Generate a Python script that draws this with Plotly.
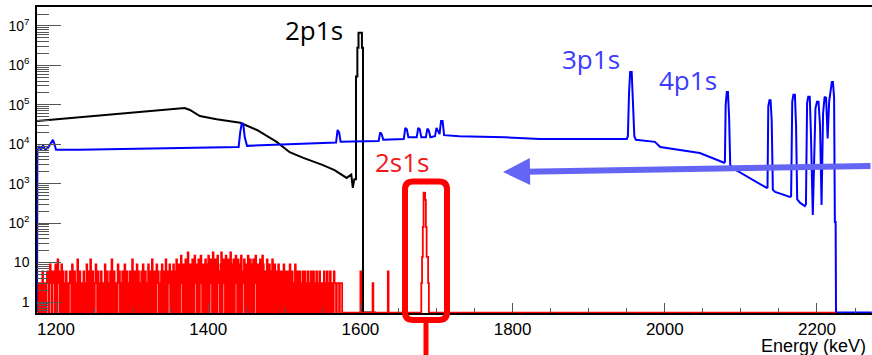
import plotly.graph_objects as go

# ---------------- data (energy in keV, counts) ----------------
# 2p1s spectrum (black)
black_e = [1175, 1363, 1369, 1376, 1389, 1411, 1442, 1464, 1490, 1507, 1525, 1550, 1566,
           1582, 1588, 1590, 1592, 1594.2, 1594.2, 1596, 1596, 1597.5, 1597.5, 1602, 1602,
           1603.4, 1603.4, 1620]
black_c = [3.9e4, 7.8e4, 8.3e4, 7.4e4, 5.2e4, 4.3e4, 3.5e4, 2.3e4, 1.15e4, 6.3e3, 4.5e3, 3.0e3, 2.2e3,
           1.4e3, 1.7e3, 780, 1.3e3, 1.3e3, 5.2e5, 5.2e5, 2.8e6, 2.8e6, 6.7e6, 6.7e6, 2.8e6,
           2.8e6, 0, 0]

# np1s spectrum (blue)
blue_e = [1175, 1175.5, 1178, 1180, 1183, 1186, 1190, 1193, 1196, 1198, 1200, 1230, 1297, 1380,
          1440, 1442, 1444, 1446, 1448, 1451, 1500, 1560, 1568, 1570, 1572, 1574, 1624, 1626,
          1628, 1630, 1657, 1659, 1661, 1663, 1674, 1676, 1678, 1680, 1686, 1688, 1690, 1692,
          1698, 1700, 1702, 1704, 1706, 1708, 1710, 1730, 1790, 1836, 1950, 1951.5, 1953,
          1954.5, 1956.5, 1958, 1960, 1962, 1987, 1994, 2046, 2078, 2079, 2080, 2081.5, 2083,
          2084.5, 2086, 2089, 2134, 2135, 2136, 2137.5, 2139, 2140.5, 2142, 2145, 2164.5, 2166,
          2167.5, 2169, 2171, 2172.5, 2174, 2178, 2184, 2185.5, 2187, 2188.5, 2190.5, 2192,
          2194.5, 2198, 2200, 2202, 2204, 2206, 2208, 2210, 2212, 2214, 2216, 2218, 2219.5,
          2221, 2222.5, 2223.5, 2224.5, 2225, 2272]
blue_c = [0, 7.2e3, 9e3, 7e3, 9.5e3, 7.2e3, 8.5e3, 1.1e4, 1.3e4, 1.0e4, 7.2e3, 7.2e3, 7.6e3, 8.2e3,
          8.5e3, 2.0e4, 3.3e4, 3.3e4, 1.5e4, 9.1e3, 9.8e3, 1.07e4, 1.1e4, 2.3e4, 2.0e4, 1.15e4, 1.2e4, 2.0e4,
          1.8e4, 1.3e4, 1.35e4, 2.6e4, 2.4e4, 1.5e4, 1.5e4, 2.6e4, 2.4e4, 1.5e4, 1.5e4, 2.5e4, 2.2e4, 1.5e4,
          1.6e4, 2.6e4, 2.2e4, 1.8e4, 3.9e4, 3.9e4, 1.7e4, 1.6e4, 1.5e4, 1.35e4, 1.35e4, 1.6e4, 2e5,
          6.8e5, 6.8e5, 1.5e5, 1.6e4, 1.3e4, 1.15e4, 8.5e3, 6e3, 3.4e3, 3.6e3, 1e5, 2.1e5, 2.1e5,
          5e4, 3e3, 2.5e3, 780, 800, 9e4, 1.3e5, 1.3e5, 4e4, 700, 620, 460, 480,
          1.2e5, 1.8e5, 1.8e5, 3e4, 400, 325, 270, 300, 1.1e5, 1.6e5, 1.6e5, 2e4,
          160, 8e4, 1.2e5, 1.2e5, 3e4, 290, 6e4, 1.6e5, 1.5e5, 1.4e4, 1.2e5, 3.0e5, 3.8e5,
          3.8e5, 1.5e5, 107, 107, 0, 0]

# 2s1s spectrum (red): noise region in 1 keV bins starting at 1176 keV
red_noise_start = 1176
red_noise_width = 1
red_noise = [
    3, 0, 3, 3, 0, 3, 6, 0, 3, 3, 0, 3, 6, 3, 0, 6, 9, 3, 0, 6,
    3, 6, 0, 9, 3, 0, 12, 3, 6, 0, 3, 9, 0, 6, 3, 0, 3, 6, 0, 3,
    0, 3, 6, 3, 0, 9, 3, 0, 6, 3, 0, 3, 12, 0, 3, 6, 0, 3, 3, 0,
    6, 3, 0, 3, 9, 0, 3, 6, 0, 12, 3, 0, 6, 3, 0, 3, 9, 3, 0, 6,
    3, 0, 3, 6, 0, 3, 3, 0, 9, 3, 0, 6, 3, 0, 3, 6, 0, 12, 3, 0,
    6, 0, 3, 3, 0, 9, 3, 6, 0, 3, 0, 6, 3, 0, 9, 3, 0, 6, 3, 0,
    3, 6, 0, 3, 12, 0, 3, 6, 0, 3, 9, 0, 6, 3, 0, 3, 6, 0, 9, 3,
    0, 6, 3, 0, 3, 9, 0, 6, 3, 0, 12, 3, 0, 6, 3, 0, 9, 3, 6, 0,
    3, 0, 6, 9, 0, 3, 6, 0, 12, 3, 0, 6, 3, 9, 0, 6, 3, 0, 9, 3,
    0, 6, 12, 0, 3, 9, 0, 6, 15, 3, 0, 9, 6, 0, 12, 3, 0, 18, 6, 0,
    9, 3, 0, 12, 6, 0, 15, 3, 9, 0, 6, 12, 0, 3, 15, 6, 0, 9, 3, 0,
    12, 6, 0, 9, 15, 0, 6, 12, 3, 0, 18, 6, 0, 12, 9, 0, 15, 6, 3, 0,
    9, 18, 0, 6, 12, 3, 0, 15, 6, 0, 12, 9, 0, 18, 3, 0, 9, 12, 0, 6,
    15, 3, 0, 12, 6, 0, 9, 15, 0, 6, 3, 12, 0, 9, 6, 0, 15, 3, 0, 12,
    6, 0, 9, 12, 0, 3, 15, 6, 0, 9, 3, 0, 12, 6, 0, 15, 9, 0, 6, 3,
    0, 12, 6, 0, 9, 3, 0, 6, 12, 0, 3, 9, 0, 6, 3, 0, 9, 6, 0, 3,
    6, 0, 3, 9, 0, 6, 3, 0, 6, 3, 0, 9, 3, 0, 6, 3, 0, 3, 9, 0,
    3, 6, 0, 3, 6, 0, 3, 0, 6, 3, 0, 6, 3, 0, 3, 6, 0, 3, 0, 6,
    3, 0, 6, 3, 0, 3, 6, 0, 3, 0, 6, 3, 0, 3, 3, 0, 6, 0, 3, 0,
    6, 3, 0, 3, 6, 0, 3, 3, 0, 6, 3, 3, 0, 3, 3, 3, 0, 3, 3, 3]
# sparse part and 2s1s peak in 1 keV bins
red_e = [1576, 1600, 1601, 1616, 1617, 1636, 1637, 1680, 1681, 1682, 1683, 1684, 1685,
         1686, 1687, 1688, 1689, 1690, 2225]
red_c = [0, 6, 0, 3, 0, 6, 0, 3, 14, 80, 590, 580, 390, 80, 14, 14, 3, 0, 0]

x_ticks = [1200, 1400, 1600, 1800, 2000, 2200]
y_tickvals = [1, 10, 100, 1e3, 1e4, 1e5, 1e6, 1e7]
y_ticktext = ["1", "10", "10<sup>2</sup>", "10<sup>3</sup>", "10<sup>4</sup>",
              "10<sup>5</sup>", "10<sup>6</sup>", "10<sup>7</sup>"]

# ---------------- layout constants ----------------
W, H = 872, 355
ML, MR, MT, MB = 37, 0, 7, 42
PW, PH = W - ML - MR, H - MT - MB
x_range = [1175, 2272.3]
y_range_log = [-0.279, 7.48]
floor = 10 ** (y_range_log[0] + 0.012)   # zero bins drawn on the axis (ROOT style)


def fl(v):
    return [c if c > 0 else floor for c in v]


def px(x):
    return (x - ML) / PW


def py(y):
    return (H - MB - y) / PH


# red histogram edges
red_x = [red_noise_start + i * red_noise_width for i in range(len(red_noise))] + red_e
red_y = red_noise + red_c

fig = go.Figure()
fig.add_trace(go.Scatter(x=black_e, y=fl(black_c), mode="lines",
                         line=dict(color="black", width=2), showlegend=False))
fig.add_trace(go.Scatter(x=blue_e, y=fl(blue_c), mode="lines",
                         line=dict(color="#0000ff", width=2), showlegend=False))
fig.add_trace(go.Scatter(x=red_x, y=fl(red_y), mode="lines", line_shape="hv",
                         line=dict(color="#ff0000", width=1.8), showlegend=False))

fig.update_layout(
    width=W, height=H,
    margin=dict(l=ML, r=MR, t=MT, b=MB, autoexpand=False),
    paper_bgcolor="white", plot_bgcolor="white",
    font=dict(family="Liberation Sans, Arial, sans-serif", color="black"),
    xaxis=dict(range=x_range, showgrid=False, zeroline=False, automargin=False,
               showline=True, linecolor="black", linewidth=1.5, mirror=True,
               tickvals=x_ticks, ticks="inside", ticklen=10, tickcolor="#555", tickwidth=1,
               tickfont=dict(size=17),
               minor=dict(dtick=50, tick0=1200, ticks="inside", ticklen=5, tickcolor="#555")),
    yaxis=dict(type="log", range=y_range_log, showgrid=False, zeroline=False, automargin=False,
               showline=True, linecolor="black", linewidth=1.5,
               tickvals=y_tickvals, ticktext=y_ticktext,
               ticks="inside", ticklen=24, tickcolor="#555", tickwidth=1,
               tickfont=dict(size=14), ticklabelstandoff=3,
               minor=dict(dtick="D1", ticks="inside", ticklen=12, tickcolor="#555")),
)

labels = [
    ("2p1s", 314, 30, "black"),
    ("3p1s", 591, 59, "#3c3cff"),
    ("4p1s", 688, 80, "#3c3cff"),
    ("2s1s", 402, 162, "#f01818"),
]
for t, x0, y0, c in labels:
    fig.add_annotation(text=t, xref="paper", yref="paper", x=px(x0), y=py(y0),
                       xanchor="center", yanchor="middle", showarrow=False,
                       font=dict(family="Open Sans", size=26, color=c))

fig.add_annotation(text="Energy (keV)", xref="paper", yref="paper", x=px(868), y=py(346),
                   xanchor="right", yanchor="middle", showarrow=False,
                   font=dict(family="Liberation Sans, Arial", size=18, color="black"))

# arrow
fig.add_annotation(text="", xref="paper", yref="paper", x=px(503), y=py(172),
                   ax=872 - 503, ay=-6, axref="pixel", ayref="pixel",
                   showarrow=True, arrowhead=2, arrowsize=0.9, arrowwidth=6,
                   arrowcolor="#6464f5")

# red rounded box around 2s1s peak
l, r, t, b, rad = px(405), px(447), py(181.5), py(320), 8
rx, ry = rad / PW, rad / PH
path = (f"M {l+rx},{t} L {r-rx},{t} Q {r},{t} {r},{t-ry} L {r},{b+ry} Q {r},{b} {r-rx},{b} "
        f"L {l+rx},{b} Q {l},{b} {l},{b+ry} L {l},{t-ry} Q {l},{t} {l+rx},{t} Z")
fig.add_shape(type="path", path=path, xref="paper", yref="paper",
              line=dict(color="#ff0000", width=6))
fig.add_shape(type="line", xref="paper", yref="paper", x0=px(426), x1=px(426),
              y0=py(322), y1=py(360), line=dict(color="#ff0000", width=5))

fig.write_html("out.html", config={"displayModeBar": False},
               post_script="document.body.style.margin='0';document.body.style.overflow='hidden';")
